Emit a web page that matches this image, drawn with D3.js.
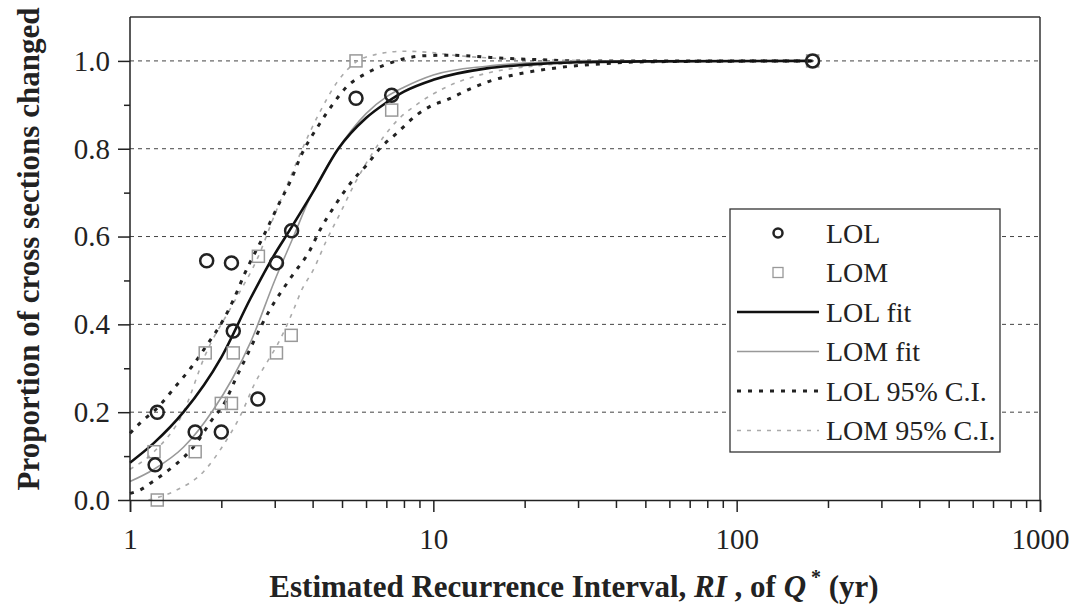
<!DOCTYPE html>
<meta charset="utf-8">
<style>

body { margin: 0; background: #fff; }
text { font-family: "Liberation Serif", "Times New Roman", serif; fill: #222; }
.axis path, .axis line { stroke: #222; stroke-width: 1.5px; }
.axis text { font-size: 29px; }
.grid line { stroke: #444; stroke-width: 1px; stroke-dasharray: 4,4; }
.fit, .ci { fill: none; stroke-linejoin: round; stroke-linecap: butt; }

</style>
<svg width="1072" height="616">
  <rect fill="#fff" width="100%" height="100%"></rect>
</svg>
<script src="https://cdn.jsdelivr.net/npm/d3@7"></script>
<script>

// observed points (RI in years, proportion changed)
var lolX = [1.21, 1.23, 1.64, 1.79, 2.0, 2.16, 2.19, 2.64, 3.04, 3.41, 5.56, 7.29, 178],
    lolY = [0.08, 0.20, 0.155, 0.545, 0.155, 0.54, 0.385, 0.23, 0.54, 0.613, 0.915, 0.922, 1.0];

var lomX = [1.2, 1.23, 1.64, 1.77, 2.0, 2.16, 2.19, 2.65, 3.04, 3.4, 5.56, 7.29, 178],
    lomY = [0.11, 0.0, 0.11, 0.335, 0.22, 0.22, 0.335, 0.555, 0.335, 0.375, 1.0, 0.888, 1.0];

// fitted curves
var lolFitX = [1, 1.2, 1.5, 2, 2.5, 3, 3.33, 4, 4.86, 6, 7, 8, 10, 15, 20, 30, 50, 178],
    lolFitY = [0.085, 0.13, 0.2, 0.325, 0.46, 0.56, 0.61, 0.7, 0.8, 0.87, 0.905, 0.93, 0.957, 0.983, 0.991, 0.997, 0.999, 1.0];

var lomFitX = [1, 1.2, 1.5, 1.88, 2.17, 2.5, 3, 3.46, 3.87, 4.86, 6, 7, 8, 10, 15, 20, 30, 50, 178],
    lomFitY = [0.042, 0.07, 0.12, 0.205, 0.275, 0.36, 0.5, 0.6, 0.68, 0.8, 0.88, 0.918, 0.94, 0.968, 0.988, 0.995, 0.999, 1.0, 1.0];

// 95% confidence bands
var lolUpX = [1, 1.09, 1.24, 1.41, 1.6, 1.81, 2.03, 2.19, 2.39, 2.75, 3.1, 3.4, 3.64, 4.23, 4.68, 5.18, 6.03, 7, 8, 9.5, 11.5, 14, 17, 22, 30, 178],
    lolUpY = [0.152, 0.178, 0.212, 0.258, 0.304, 0.357, 0.41, 0.455, 0.516, 0.6, 0.675, 0.73, 0.78, 0.858, 0.903, 0.941, 0.972, 0.992, 1.005, 1.012, 1.013, 1.01, 1.006, 1.003, 1.0, 1.0];

var lolLoX = [1, 1.08, 1.19, 1.3, 1.41, 1.62, 1.86, 2.06, 2.22, 2.36, 2.89, 3.41, 3.92, 4.23, 4.68, 5.44, 6.03, 6.67, 7.57, 8.82, 10, 11.06, 13, 15.2, 18.4, 22.5, 27.6, 37, 50, 178],
    lolLoY = [0.015, 0.023, 0.042, 0.061, 0.08, 0.121, 0.182, 0.224, 0.273, 0.311, 0.433, 0.509, 0.569, 0.615, 0.665, 0.729, 0.763, 0.801, 0.835, 0.877, 0.9, 0.911, 0.934, 0.953, 0.968, 0.979, 0.987, 0.994, 0.998, 1.0];

var lomUpX = [1, 1.2, 1.5, 1.77, 2.2, 2.65, 3.0, 3.4, 3.7, 4.2, 4.8, 5.5, 6.5, 8, 9.5, 12, 16, 25, 40, 178],
    lomUpY = [0.07, 0.11, 0.2, 0.33, 0.45, 0.555, 0.65, 0.74, 0.8, 0.88, 0.95, 0.995, 1.015, 1.022, 1.02, 1.012, 1.006, 1.002, 1.0, 1.0];

var lomLoX = [1.15, 1.4, 1.75, 2.0, 2.33, 2.58, 2.86, 3.08, 3.46, 3.68, 4.02, 4.45, 4.93, 5.5, 6.3, 7.5, 9, 11, 15, 20, 30, 50, 178],
    lomLoY = [0.0, 0.02, 0.065, 0.118, 0.197, 0.266, 0.319, 0.357, 0.433, 0.478, 0.524, 0.592, 0.653, 0.72, 0.79, 0.86, 0.905, 0.94, 0.972, 0.986, 0.995, 0.999, 1.0];

var yTicks = [0, 0.2, 0.4, 0.6, 0.8, 1.0],
    yMinor = [0.1, 0.3, 0.5, 0.7, 0.9],
    xTicks = [1, 10, 100, 1000];

var svg = d3.select("svg"),
    margin = {top: 17, right: 32, bottom: 116, left: 130},
    width = 1072 - margin.left - margin.right,
    height = 616 - margin.top - margin.bottom;

var x = d3.scaleLog().domain([1, 1000]).range([0, width]),
    y = d3.scaleLinear().domain([0, 1.1]).range([height, 0]);

var g = svg.append("g").attr("transform", "translate(" + margin.left + "," + margin.top + ")");

// gridlines
g.append("g").attr("class", "grid")
  .selectAll("line").data(yTicks.slice(1)).enter().append("line")
    .attr("x1", 0).attr("x2", width)
    .attr("y1", y).attr("y2", y);

// frame
g.append("line").attr("x1", 0).attr("x2", width).attr("y1", 0).attr("y2", 0)
    .attr("stroke", "#333").attr("stroke-width", 1.5);
g.append("line").attr("x1", width).attr("x2", width).attr("y1", 0).attr("y2", height)
    .attr("stroke", "#333").attr("stroke-width", 1.5);

function pairs(xs, ys) { return xs.map(function(d, i) { return [d, ys[i]]; }); }

var line = d3.line()
    .x(function(d) { return x(d[0]); })
    .y(function(d) { return y(d[1]); })
    .curve(d3.curveMonotoneX);

var curves = [
  {data: pairs(lomLoX, lomLoY), stroke: "#aaa", w: 1.6, dash: "4,6", cls: "ci"},
  {data: pairs(lomUpX, lomUpY), stroke: "#aaa", w: 1.6, dash: "4,6", cls: "ci"},
  {data: pairs(lolLoX, lolLoY), stroke: "#222", w: 3, dash: "4,7", cls: "ci"},
  {data: pairs(lolUpX, lolUpY), stroke: "#222", w: 3, dash: "4,7", cls: "ci"},
  {data: pairs(lomFitX, lomFitY), stroke: "#999", w: 1.6, dash: null, cls: "fit"},
  {data: pairs(lolFitX, lolFitY), stroke: "#111", w: 2.6, dash: null, cls: "fit"}
];

g.selectAll("path.curve").data(curves).enter().append("path")
    .attr("class", function(d) { return "curve " + d.cls; })
    .attr("d", function(d) { return line(d.data); })
    .attr("stroke", function(d) { return d.stroke; })
    .attr("stroke-width", function(d) { return d.w; })
    .attr("stroke-dasharray", function(d) { return d.dash; });

// markers
g.selectAll("rect.lom").data(pairs(lomX, lomY)).enter().append("rect")
    .attr("class", "lom")
    .attr("x", function(d) { return x(d[0]) - 6; })
    .attr("y", function(d) { return y(d[1]) - 6; })
    .attr("width", 12).attr("height", 12)
    .attr("fill", "none").attr("stroke", "#999").attr("stroke-width", 1.5);

g.selectAll("circle.lol").data(pairs(lolX, lolY)).enter().append("circle")
    .attr("class", "lol")
    .attr("cx", function(d) { return x(d[0]); })
    .attr("cy", function(d) { return y(d[1]); })
    .attr("r", 6.5)
    .attr("fill", "none").attr("stroke", "#222").attr("stroke-width", 2.5);

// axes
g.append("g").attr("class", "axis")
    .attr("transform", "translate(0," + height + ")")
    .call(d3.axisBottom(x).tickValues(xTicks).tickFormat(d3.format("d")).tickSize(12).tickPadding(16));

g.append("g").attr("class", "axis")
    .attr("transform", "translate(0," + height + ")")
    .call(d3.axisBottom(x).tickValues(x.ticks().filter(function(d) { return xTicks.indexOf(d) < 0; }))
      .tickFormat("").tickSize(8))
  .select(".domain").remove();

g.append("g").attr("class", "axis")
    .call(d3.axisLeft(y).tickValues(yTicks).tickFormat(d3.format(".1f")).tickSize(12).tickPadding(8))
  .select(".domain").attr("d", "M0," + height + "V0");

g.append("g").attr("class", "axis")
    .call(d3.axisLeft(y).tickValues(yMinor).tickFormat("").tickSize(6))
  .select(".domain").remove();

// axis titles
svg.append("text")
    .attr("transform", "translate(28," + (margin.top + 232) + ") rotate(-90)")
    .attr("text-anchor", "middle").attr("dy", "0.35em")
    .style("font-size", "31px").style("font-weight", "bold")
    .text("Proportion of cross sections changed");

var xt = svg.append("text")
    .attr("x", 574).attr("y", 597)
    .attr("text-anchor", "middle")
    .style("font-size", "31px").style("font-weight", "bold");
xt.append("tspan").text("Estimated Recurrence Interval, ");
xt.append("tspan").style("font-style", "italic").text("RI");
xt.append("tspan").text(" , of ");
xt.append("tspan").style("font-style", "italic").text("Q");
xt.append("tspan").attr("dy", -13).style("font-size", "20px").text(" *");
xt.append("tspan").attr("dy", 13).text("  (yr)");

// legend
var legendItems = [
  {label: "LOL", type: "circle"},
  {label: "LOM", type: "square"},
  {label: "LOL fit", type: "line", stroke: "#111", w: 2.6, dash: null},
  {label: "LOM fit", type: "line", stroke: "#999", w: 1.6, dash: null},
  {label: "LOL 95% C.I.", type: "line", stroke: "#222", w: 3, dash: "4,7"},
  {label: "LOM 95% C.I.", type: "line", stroke: "#aaa", w: 1.6, dash: "4,6"}
];

var legend = svg.append("g").attr("transform", "translate(730,209)");
legend.append("rect").attr("width", 270).attr("height", 243)
    .attr("fill", "#fff").attr("stroke", "#333").attr("stroke-width", 1.3);

var item = legend.selectAll("g.item").data(legendItems).enter().append("g")
    .attr("class", "item")
    .attr("transform", function(d, i) { return "translate(0," + (24 + i * 39.5) + ")"; });

item.append("text").attr("x", 96).attr("dy", "0.35em")
    .style("font-size", "28px").text(function(d) { return d.label; });

item.filter(function(d) { return d.type === "circle"; }).append("circle")
    .attr("cx", 48).attr("r", 4.5).attr("fill", "none").attr("stroke", "#222").attr("stroke-width", 2.5);

item.filter(function(d) { return d.type === "square"; }).append("rect")
    .attr("x", 43).attr("y", -5).attr("width", 10).attr("height", 10)
    .attr("fill", "none").attr("stroke", "#999").attr("stroke-width", 1.3);

item.filter(function(d) { return d.type === "line"; }).append("line")
    .attr("x1", 7).attr("x2", 89)
    .attr("stroke", function(d) { return d.stroke; })
    .attr("stroke-width", function(d) { return d.w; })
    .attr("stroke-dasharray", function(d) { return d.dash; });

</script>
